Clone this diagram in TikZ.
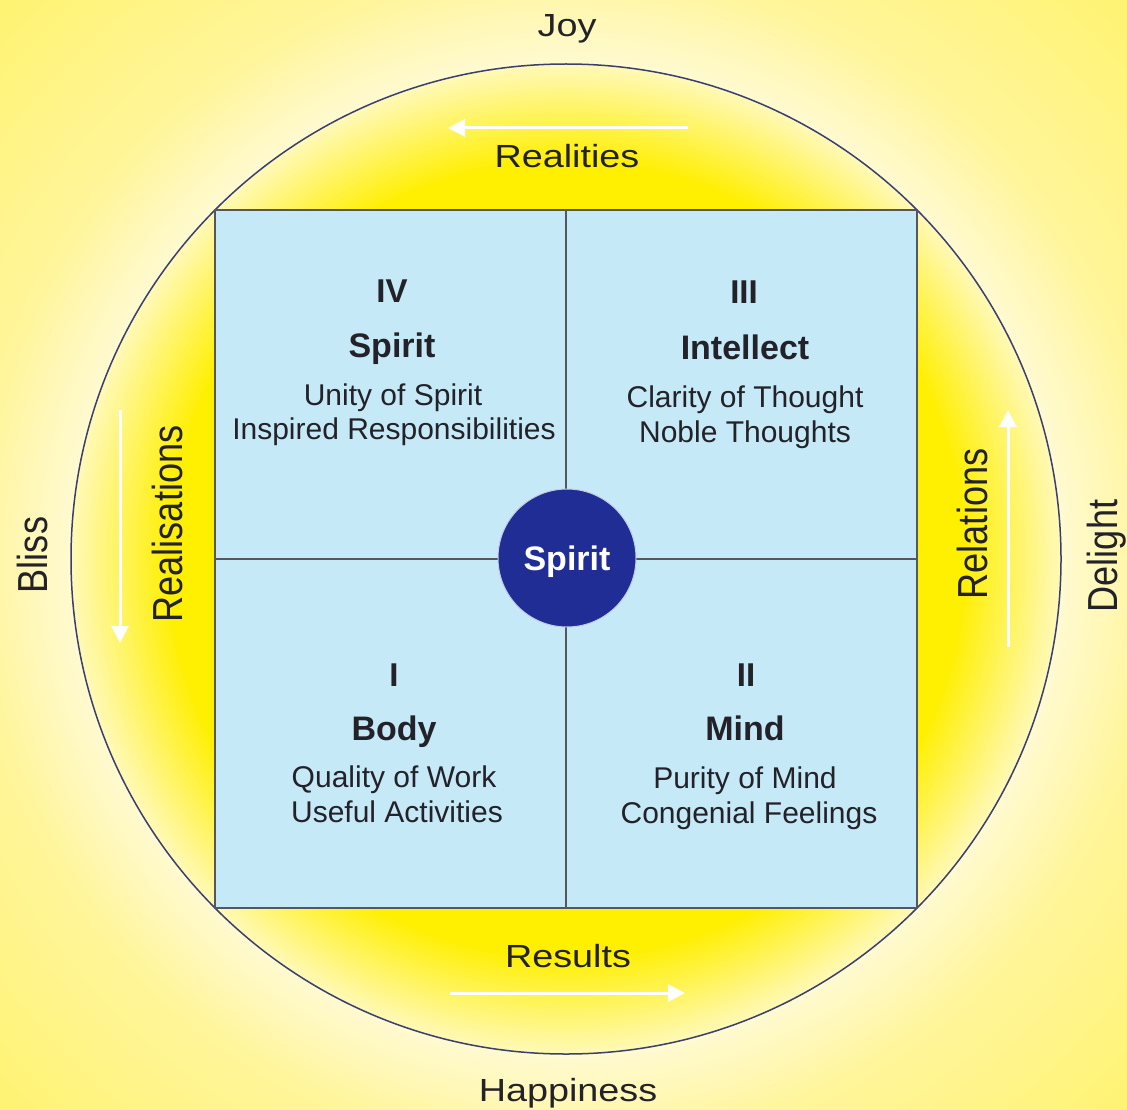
\documentclass[tikz,border=0pt]{standalone}
\usepackage{fontspec}
\setmainfont{Liberation Sans}
\newfontfamily\hwide[FakeStretch=1.18]{Liberation Sans}
\newfontfamily\vnarrow[FakeStretch=0.86]{Liberation Sans}
\usetikzlibrary{arrows.meta}
\definecolor{bgpale}{HTML}{FFF370}
\definecolor{bgmid}{HTML}{FFF59A}
\definecolor{glowlight}{HTML}{FFFAD2}
\definecolor{ysat}{HTML}{FFEF00}
\definecolor{yedge}{HTML}{FFF9B8}
\definecolor{sqblue}{HTML}{C6E9F7}
\definecolor{spiritblue}{HTML}{1F2D94}
\definecolor{ringcol}{HTML}{3B3F6E}
\definecolor{edgegray}{HTML}{55565E}
\definecolor{txtcol}{HTML}{222228}
\pgfdeclareradialshading{outerglow}{\pgfpoint{0bp}{0bp}}{color(0bp)=(glowlight); color(15.4bp)=(glowlight); color(18.5bp)=(bgmid); color(25bp)=(bgpale); color(50bp)=(bgpale)}
\pgfdeclareradialshading{innerglow}{\pgfpoint{0bp}{0bp}}{color(0bp)=(ysat); color(20bp)=(ysat); color(25bp)=(yedge); color(50bp)=(yedge)}
\tikzset{
  numtxt/.style={anchor=base, text=txtcol, font=\bfseries\fontsize{33}{38}\selectfont},
  titletxt/.style={anchor=base, text=txtcol, font=\bfseries\fontsize{34}{40}\selectfont},
  bodytxt/.style={anchor=base, text=txtcol, font=\fontsize{30}{36}\selectfont},
  outerh/.style={anchor=base, text=txtcol, font=\hwide\fontsize{32}{38}\selectfont},
  outerv/.style={anchor=base, rotate=90, text=txtcol, font=\vnarrow\fontsize{42}{48}\selectfont},
  flowarrow/.style={draw=white, line width=3pt, -{Triangle[length=17pt,width=17pt]}},
  divider/.style={draw=edgegray, line width=2pt}
}
\begin{document}
\begin{tikzpicture}[x=1pt,y=-1pt]
\useasboundingbox (0,0) rectangle (1127,1110);
\begin{scope}
\clip (0,0) rectangle (1127,1110);
\shade[shading=outerglow] (566,559) circle (800);
\end{scope}
\node[circle, minimum size=990pt, inner sep=0pt, outer sep=0pt, shade, shading=innerglow, draw=ringcol, line width=1.5pt] (ring) at (566,559) {};
\node[rectangle, minimum width=702pt, minimum height=698pt, inner sep=0pt, outer sep=0pt, fill=sqblue, draw=edgegray, line width=2pt] (sq) at (566,559) {};
\draw[divider] (sq.north) -- (sq.south);
\draw[divider] (sq.west) -- (sq.east);
\node[circle, minimum size=138pt, inner sep=0pt, fill=spiritblue, draw=white!75!spiritblue, line width=1pt, text=white, text depth=0pt, font=\bfseries\fontsize{34}{40}\selectfont] (core) at (567,558) {Spirit};
% quadrant IV
\node[numtxt] (q4n) at (392,302) {IV};
\node[titletxt] (q4t) at (392,357) {Spirit};
\node[bodytxt] (q4a) at (393,405) {Unity of Spirit};
\node[bodytxt] (q4b) at (394,439) {Inspired Responsibilities};
% quadrant III
\node[numtxt] (q3n) at (744,303) {III};
\node[titletxt] (q3t) at (745,359) {Intellect};
\node[bodytxt] (q3a) at (745,407) {Clarity of Thought};
\node[bodytxt] (q3b) at (745,442) {Noble Thoughts};
% quadrant I
\node[numtxt] (q1n) at (394,686) {I};
\node[titletxt] (q1t) at (394,740) {Body};
\node[bodytxt] (q1a) at (394,787) {Quality of Work};
\node[bodytxt] (q1b) at (397,822) {Useful Activities};
% quadrant II
\node[numtxt] (q2n) at (746,686) {II};
\node[titletxt] (q2t) at (745,740) {Mind};
\node[bodytxt] (q2a) at (745,788) {Purity of Mind};
\node[bodytxt] (q2b) at (749,823) {Congenial Feelings};
% outer labels
\node[outerh] (joy) at (567,37) {Joy};
\node[outerh] (realities) at (567,168) {Realities};
\node[outerh] (results) at (568,967) {Results};
\node[outerh] (happiness) at (568,1101) {Happiness};
\node[outerv] (bliss) at (47,555) {Bliss};
\node[outerv] (realisations) at (182,524) {Realisations};
\node[outerv] (relations) at (987,524) {Relations};
\node[outerv] (delight) at (1117,556) {Delight};
% arrows
\coordinate (topA) at (688,128);
\coordinate (topB) at (448,128);
\coordinate (botA) at (450,993);
\coordinate (botB) at (685,993);
\coordinate (lefA) at (120,410);
\coordinate (lefB) at (120,643);
\coordinate (rigA) at (1008,647);
\coordinate (rigB) at (1008,410);
\draw[flowarrow] (topA) -- (topB);
\draw[flowarrow] (botA) -- (botB);
\draw[flowarrow] (lefA) -- (lefB);
\draw[flowarrow] (rigA) -- (rigB);
\end{tikzpicture}
\end{document}
